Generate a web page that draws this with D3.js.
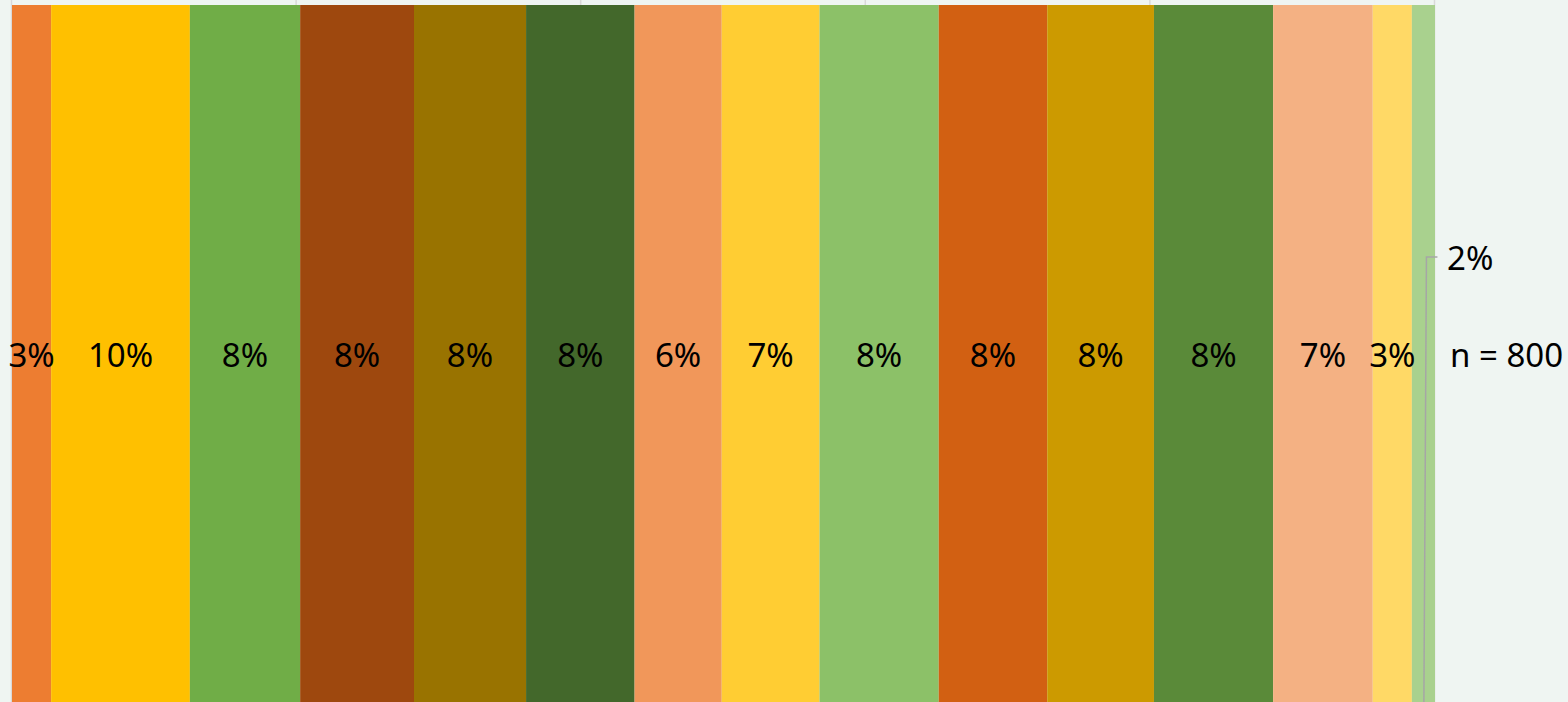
<!DOCTYPE html>
<html><head><meta charset="utf-8">
<script src="https://cdn.jsdelivr.net/npm/d3@7"></script>
<style>html,body{margin:0;padding:0;background:#eff5f2;overflow:hidden}</style>
</head><body><svg id="c" width="1568" height="702"></svg>
<script>
const categories = ["A","B","C","D","E","F","G","H","I","J","K","L","M","N","O"];
const counts = [22,78,62,64,63,61,49,55,67,61,60,67,56,22,13];
const labels = ["3%","10%","8%","8%","8%","8%","6%","7%","8%","8%","8%","8%","7%","3%","2%"];
const colors = ["#ED7D31","#FFC000","#70AD47","#9E480E","#997300","#43682B","#F1975A","#FFCD33","#8CC168","#D26012","#CC9A00","#5A8A39","#F4B183","#FFD966","#A9D18E"];
const gridTicks = [0,0.2,0.4,0.6,0.8,1.0];
const nLabel = "n = 800";

const total = d3.sum(counts);
const svg = d3.select("#c");
const x = d3.scaleLinear().domain([0,1]).range([12,1435]);
const y = d3.scaleBand().domain(["bar"]).range([5,780]).padding(0);

svg.append("rect").attr("width",1568).attr("height",702).attr("fill","#eff5f2");

svg.append("g").selectAll("line").data(gridTicks).join("line")
  .attr("x1",d=>x(d)-0.5).attr("x2",d=>x(d)-0.5).attr("y1",-50).attr("y2",780)
  .attr("stroke","#d9d9d9").attr("stroke-width",1.5);

let cum = 0;
const segs = counts.map((c,i)=>{const s={i,c,x0:cum/total,x1:(cum+c)/total,label:labels[i],color:colors[i]};cum+=c;return s;});

svg.append("g").selectAll("rect").data(segs).join("rect")
  .attr("x",d=>x(d.x0)).attr("width",d=>x(d.x1)-x(d.x0))
  .attr("y",y("bar")).attr("height",y.bandwidth())
  .attr("fill",d=>d.color);

const labelY = 354;
const font = "'Noto Sans', sans-serif";
svg.append("g").selectAll("text").data(segs.filter(d=>d.i<14)).join("text")
  .attr("x",d=>x((d.x0+d.x1)/2)).attr("y",labelY)
  .attr("text-anchor","middle").attr("dominant-baseline","central")
  .style("font-family",font).style("font-size","33px").attr("fill","#000")
  .text(d=>d.label);

// outside label for the last small segment
const last = segs[14];
const cx = x((last.x0+last.x1)/2);
svg.append("polyline")
  .attr("points",`${cx},780 ${cx+3},257 ${cx+14},257`)
  .attr("fill","none").attr("stroke","#a6a6a6").attr("stroke-width",1.5);
svg.append("text").attr("x",1447).attr("y",257)
  .attr("dominant-baseline","central")
  .style("font-family",font).style("font-size","33px").attr("fill","#000")
  .text(last.label);

svg.append("text").attr("x",1450).attr("y",labelY)
  .attr("dominant-baseline","central")
  .style("font-family",font).style("font-size","33px").attr("fill","#000")
  .text(nLabel);
</script></body></html>
